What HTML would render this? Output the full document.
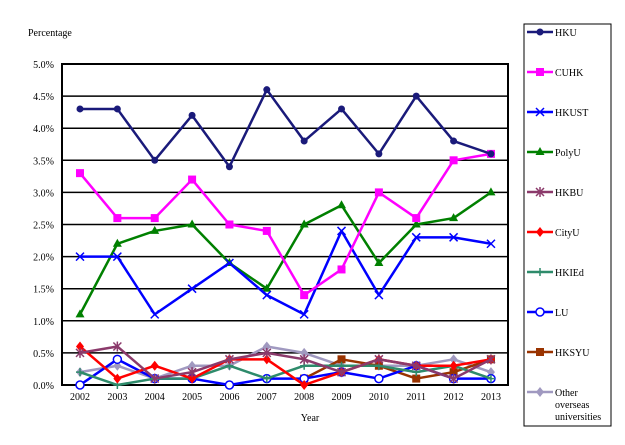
<!DOCTYPE html>
<html><head><meta charset="utf-8"><style>
body{margin:0;background:#fff;}
svg{display:block;font-family:"Liberation Serif",serif;}
</style></head><body>
<svg id="s" width="625" height="445" xmlns="http://www.w3.org/2000/svg">
<rect width="625" height="445" fill="#fff"/>
<text x="28" y="36" font-size="10">Percentage</text>
<text x="310" y="421" font-size="10" text-anchor="middle">Year</text>
<rect x="524" y="24" width="87" height="402" fill="#fff" stroke="#000" stroke-width="1"/>
<g id="g"></g>
</svg>
<script>
const g=document.getElementById('g');const NS='http://www.w3.org/2000/svg';
function el(t,a,txt){const e=document.createElementNS(NS,t);for(const k in a)e.setAttribute(k,a[k]);if(txt!==undefined)e.textContent=txt;g.appendChild(e);return e;}
const L=62,R=508,T=64,B=385;
const X=i=>80+i*37.36, Y=v=>B-v*(B-T)/5;
for(let k=0;k<=10;k++){const y=Y(k*0.5);el('line',{x1:L,x2:R,y1:y,y2:y,stroke:'#000','stroke-width':k==0||k==10?1:1.5});
el('text',{x:54,y:y+4,'font-size':10,'text-anchor':'end'},(k*0.5).toFixed(1)+'%');}
el('rect',{x:L,y:T,width:R-L,height:B-T,fill:'none',stroke:'#000','stroke-width':2});
for(let i=0;i<12;i++)el('text',{x:X(i),y:400,'font-size':10,'text-anchor':'middle'},2002+i);
const S=[
['HKU','#1a1a7a','c',[4.3,4.3,3.5,4.2,3.4,4.6,3.8,4.3,3.6,4.5,3.8,3.6]],
['CUHK','#ff00ff','s',[3.3,2.6,2.6,3.2,2.5,2.4,1.4,1.8,3.0,2.6,3.5,3.6]],
['HKUST','#0000ff','x',[2.0,2.0,1.1,1.5,1.9,1.4,1.1,2.4,1.4,2.3,2.3,2.2]],
['PolyU','#008000','t',[1.1,2.2,2.4,2.5,1.9,1.5,2.5,2.8,1.9,2.5,2.6,3.0]],
['HKBU','#8b3a6b','*',[0.5,0.6,0.1,0.2,0.4,0.5,0.4,0.2,0.4,0.3,0.1,0.4]],
['CityU','#ff0000','d',[0.6,0.1,0.3,0.1,0.4,0.4,0.0,0.2,0.4,0.3,0.3,0.4]],
['HKIEd','#2e8b6b','+',[0.2,0.0,0.1,0.1,0.3,0.1,0.3,0.3,0.3,0.2,0.3,0.1]],
['LU','#0000ff','o',[0.0,0.4,0.1,0.1,0.0,0.1,0.1,0.2,0.1,0.3,0.1,0.1]],
['HKSYU','#993300','s',[null,null,null,null,null,null,0.1,0.4,0.3,0.1,0.2,0.4]],
['Other','#a099c0','d',[0.2,0.3,0.1,0.3,0.3,0.6,0.5,0.3,0.3,0.3,0.4,0.2]]];
function mk(t,x,y,c){
 if(t=='c')el('circle',{cx:x,cy:y,r:3.5,fill:c});
 else if(t=='o')el('circle',{cx:x,cy:y,r:4,fill:'#fff',stroke:c,'stroke-width':1.5});
 else if(t=='s')el('rect',{x:x-4,y:y-4,width:8,height:8,fill:c});
 else if(t=='t')el('path',{d:`M${x} ${y-5}L${x+4.5} ${y+3}L${x-4.5} ${y+3}Z`,fill:c});
 else if(t=='d')el('path',{d:`M${x} ${y-5}L${x+4} ${y}L${x} ${y+5}L${x-4} ${y}Z`,fill:c});
 else if(t=='x')el('path',{d:`M${x-4} ${y-4}L${x+4} ${y+4}M${x+4} ${y-4}L${x-4} ${y+4}`,stroke:c,'stroke-width':1.5});
 else if(t=='+')el('path',{d:`M${x-4} ${y}L${x+4} ${y}M${x} ${y-4}L${x} ${y+4}`,stroke:c,'stroke-width':1.5});
 else if(t=='*')el('path',{d:`M${x-4} ${y-4}L${x+4} ${y+4}M${x+4} ${y-4}L${x-4} ${y+4}M${x} ${y-5}L${x} ${y+5}`,stroke:c,'stroke-width':1.5});
}
S.slice().reverse().forEach(s=>{let p=[];s[3].forEach((v,i)=>{if(v!==null)p.push(X(i)+','+Y(v));});
 el('polyline',{points:p.join(' '),fill:'none',stroke:s[1],'stroke-width':2.5,'stroke-linejoin':'round'});
 s[3].forEach((v,i)=>{if(v!==null)mk(s[2],X(i),Y(v),s[1]);});});
S.forEach((s,k)=>{const y=32+k*40;el('line',{x1:527,x2:553,y1:y,y2:y,stroke:s[1],'stroke-width':2.5});mk(s[2],540,y,s[1]);
 if(k<9)el('text',{x:555,y:y+4,'font-size':10},s[0]);
 else{el('text',{x:555,y:y+4,'font-size':10},'Other');el('text',{x:555,y:y+16,'font-size':10},'overseas');el('text',{x:555,y:y+28,'font-size':10},'universities');}});
</script>
</body></html>
